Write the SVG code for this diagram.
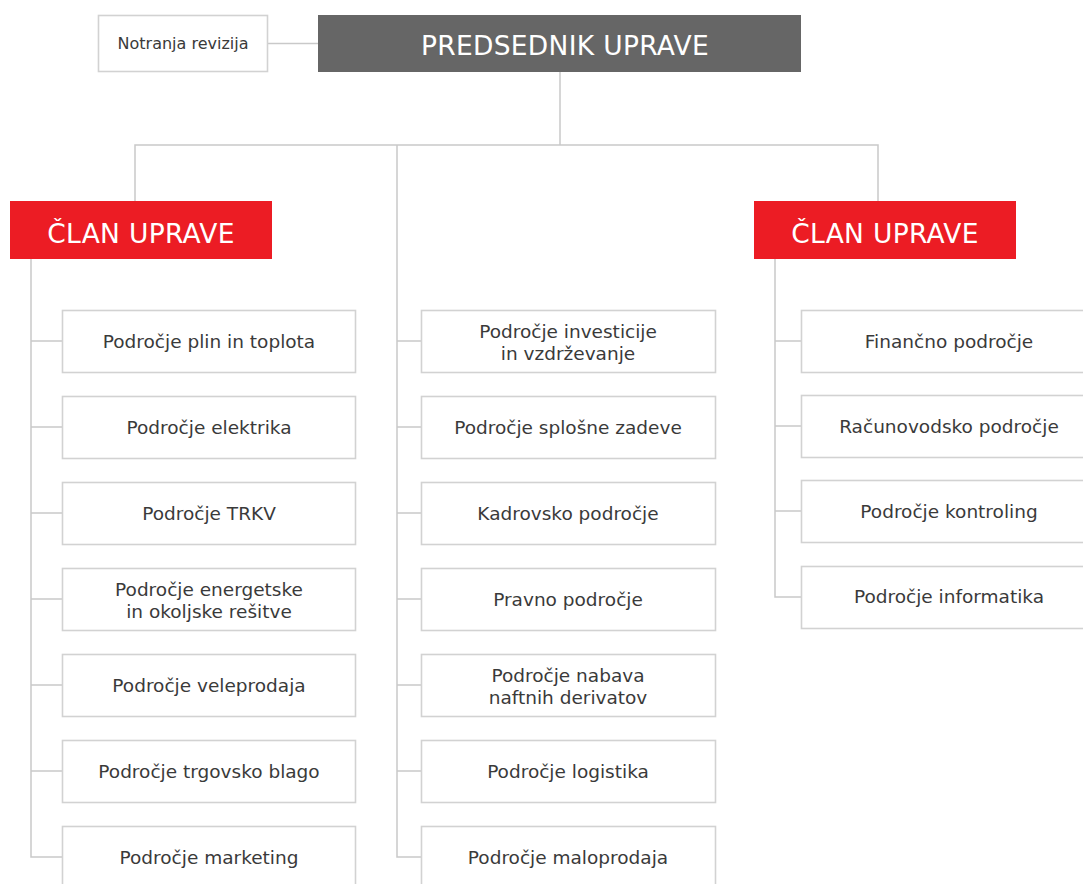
<svg xmlns="http://www.w3.org/2000/svg" width="1083" height="884" viewBox="0 0 1083 884">
  <style>
    .link { fill: none; stroke: #c9c9c9; stroke-width: 1.5; }
    .box { fill: #ffffff; stroke: #d2d2d2; stroke-width: 1.6; }
    .label { font-family: "DejaVu Sans", "Liberation Sans", sans-serif; font-size: 18.5px; fill: #3a3a3a; text-anchor: middle; }
    .head { font-family: "DejaVu Sans", "Liberation Sans", sans-serif; font-size: 26.5px; letter-spacing: 0.3px; fill: #ffffff; text-anchor: middle; }
    .red { fill: #ec1c24; }
    .grey { fill: #666666; }
  </style>
  <rect width="1083" height="884" fill="#ffffff"/>

  <!-- connectors -->
  <g id="connectors" class="link">
    <line x1="268" y1="43.5" x2="318" y2="43.5"/>
    <line x1="560" y1="72" x2="560" y2="145"/>
    <polyline points="135,201 135,145 878,145 878,201"/>
    <!-- left column spine and branches -->
    <polyline points="31,259 31,857 62,857"/>
    <line x1="31" y1="341" x2="62" y2="341"/>
    <line x1="31" y1="427" x2="62" y2="427"/>
    <line x1="31" y1="513" x2="62" y2="513"/>
    <line x1="31" y1="599" x2="62" y2="599"/>
    <line x1="31" y1="685" x2="62" y2="685"/>
    <line x1="31" y1="771" x2="62" y2="771"/>
    <!-- middle column spine and branches -->
    <polyline points="397,145 397,857 421,857"/>
    <line x1="397" y1="341" x2="421" y2="341"/>
    <line x1="397" y1="427" x2="421" y2="427"/>
    <line x1="397" y1="513" x2="421" y2="513"/>
    <line x1="397" y1="599" x2="421" y2="599"/>
    <line x1="397" y1="685" x2="421" y2="685"/>
    <line x1="397" y1="771" x2="421" y2="771"/>
    <!-- right column spine and branches -->
    <polyline points="775,259 775,597 801,597"/>
    <line x1="775" y1="341" x2="801" y2="341"/>
    <line x1="775" y1="426" x2="801" y2="426"/>
    <line x1="775" y1="511" x2="801" y2="511"/>
  </g>

  <!-- top level -->
  <g id="notranja-revizija">
    <rect class="box" x="98.5" y="15.5" width="169" height="56"/>
    <text x="183" y="49" class="label" style="font-size:16px">Notranja revizija</text>
  </g>
  <g id="predsednik-uprave">
    <rect class="grey" x="318" y="15" width="483" height="57"/>
    <text x="565" y="55" class="head">PREDSEDNIK UPRAVE</text>
  </g>
  <g id="clan-uprave-levo">
    <rect class="red" x="10" y="201" width="262" height="58"/>
    <text x="141" y="243" class="head">ČLAN UPRAVE</text>
  </g>
  <g id="clan-uprave-desno">
    <rect class="red" x="754" y="201" width="262" height="58"/>
    <text x="885" y="243" class="head">ČLAN UPRAVE</text>
  </g>

  <!-- left column -->
  <g id="plin-toplota">
    <rect class="box" x="62.5" y="310.5" width="293" height="62"/>
    <text x="209" y="348" class="label">Področje plin in toplota</text>
  </g>
  <g id="elektrika">
    <rect class="box" x="62.5" y="396.5" width="293" height="62"/>
    <text x="209" y="434" class="label">Področje elektrika</text>
  </g>
  <g id="trkv">
    <rect class="box" x="62.5" y="482.5" width="293" height="62"/>
    <text x="209" y="520" class="label">Področje TRKV</text>
  </g>
  <g id="energetske-resitve">
    <rect class="box" x="62.5" y="568.5" width="293" height="62"/>
    <text x="209" y="596" class="label">Področje energetske</text>
    <text x="209" y="618" class="label">in okoljske rešitve</text>
  </g>
  <g id="veleprodaja">
    <rect class="box" x="62.5" y="654.5" width="293" height="62"/>
    <text x="209" y="692" class="label">Področje veleprodaja</text>
  </g>
  <g id="trgovsko-blago">
    <rect class="box" x="62.5" y="740.5" width="293" height="62"/>
    <text x="209" y="778" class="label">Področje trgovsko blago</text>
  </g>
  <g id="marketing">
    <rect class="box" x="62.5" y="826.5" width="293" height="62"/>
    <text x="209" y="864" class="label">Področje marketing</text>
  </g>

  <!-- middle column -->
  <g id="investicije">
    <rect class="box" x="421.5" y="310.5" width="294" height="62"/>
    <text x="568" y="338" class="label">Področje investicije</text>
    <text x="568" y="360" class="label">in vzdrževanje</text>
  </g>
  <g id="splosne-zadeve">
    <rect class="box" x="421.5" y="396.5" width="294" height="62"/>
    <text x="568" y="434" class="label">Področje splošne zadeve</text>
  </g>
  <g id="kadrovsko">
    <rect class="box" x="421.5" y="482.5" width="294" height="62"/>
    <text x="568" y="520" class="label">Kadrovsko področje</text>
  </g>
  <g id="pravno">
    <rect class="box" x="421.5" y="568.5" width="294" height="62"/>
    <text x="568" y="606" class="label">Pravno področje</text>
  </g>
  <g id="nabava">
    <rect class="box" x="421.5" y="654.5" width="294" height="62"/>
    <text x="568" y="682" class="label">Področje nabava</text>
    <text x="568" y="704" class="label">naftnih derivatov</text>
  </g>
  <g id="logistika">
    <rect class="box" x="421.5" y="740.5" width="294" height="62"/>
    <text x="568" y="778" class="label">Področje logistika</text>
  </g>
  <g id="maloprodaja">
    <rect class="box" x="421.5" y="826.5" width="294" height="62"/>
    <text x="568" y="864" class="label">Področje maloprodaja</text>
  </g>

  <!-- right column -->
  <g id="financno">
    <rect class="box" x="801.5" y="310.5" width="296" height="62"/>
    <text x="949" y="348" class="label">Finančno področje</text>
  </g>
  <g id="racunovodsko">
    <rect class="box" x="801.5" y="395.5" width="296" height="62"/>
    <text x="949" y="433" class="label">Računovodsko področje</text>
  </g>
  <g id="kontroling">
    <rect class="box" x="801.5" y="480.5" width="296" height="62"/>
    <text x="949" y="518" class="label">Področje kontroling</text>
  </g>
  <g id="informatika">
    <rect class="box" x="801.5" y="566.5" width="296" height="62"/>
    <text x="949" y="603" class="label">Področje informatika</text>
  </g>
</svg>
